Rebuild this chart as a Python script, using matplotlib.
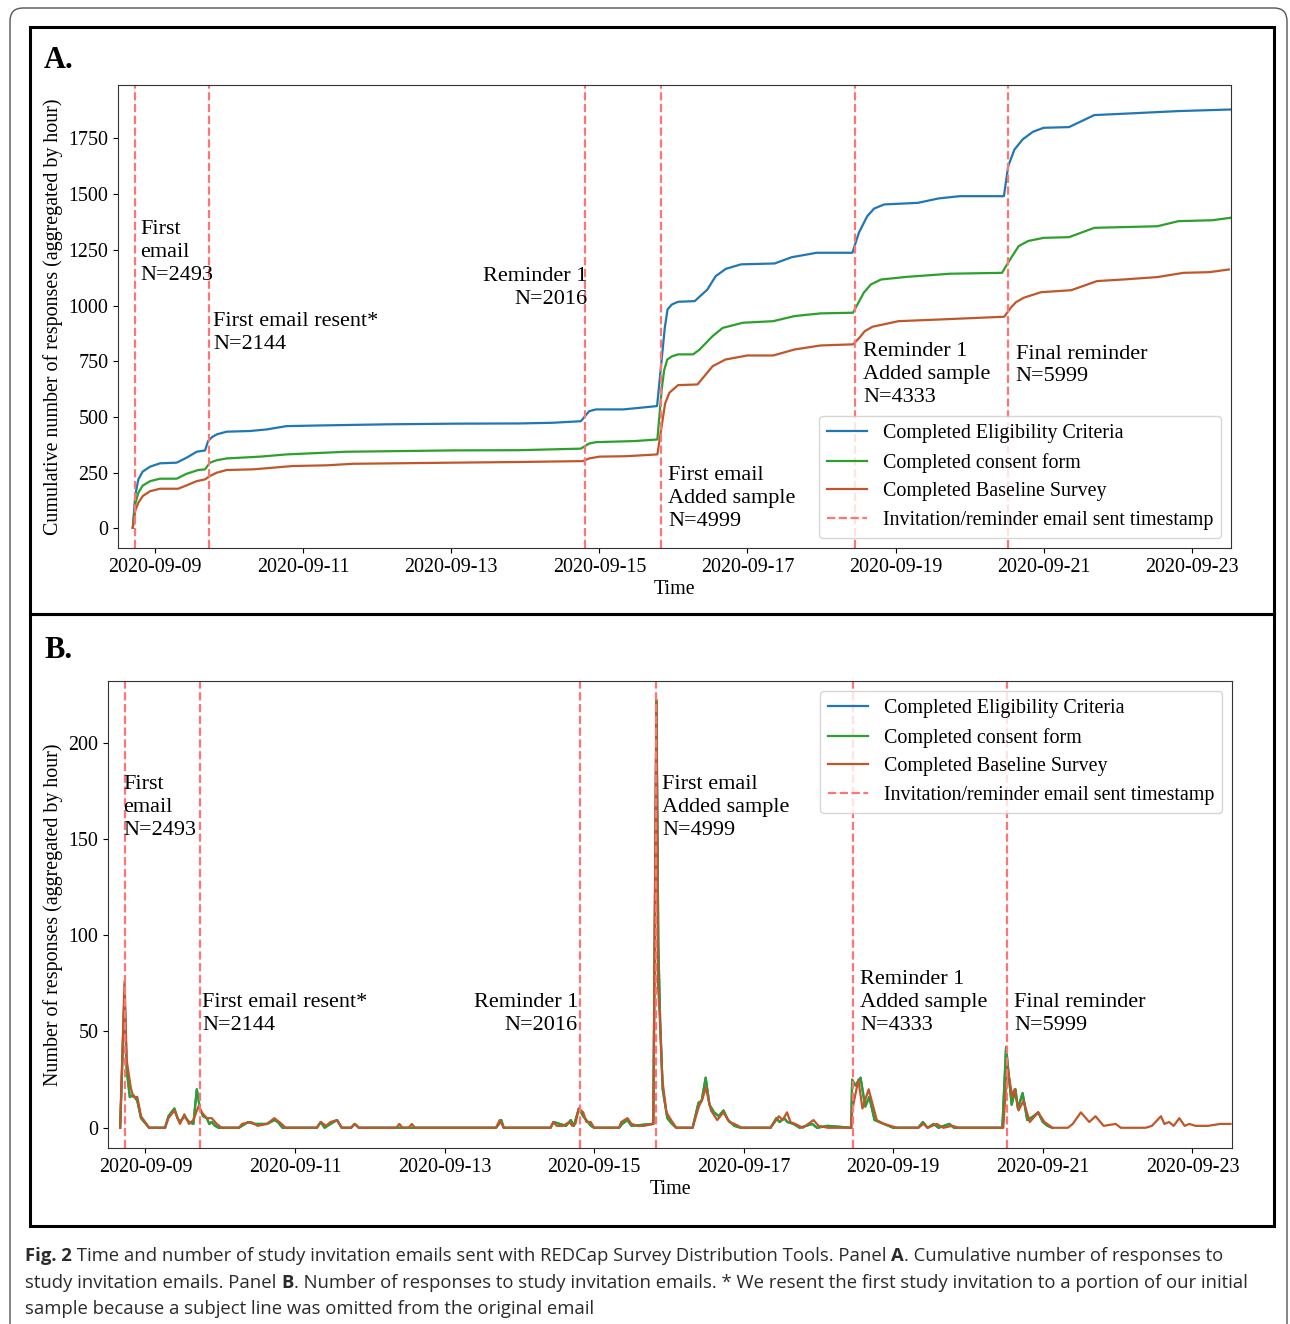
import matplotlib
matplotlib.use('Agg')
import matplotlib.pyplot as plt
import matplotlib.dates as mdates
from matplotlib.patches import Rectangle, FancyBboxPatch
import pandas as pd

W, H = 1290, 1324
T0 = pd.Timestamp('2020-09-08 00:00')

# ---- data: hours after 2020-09-08 00:00 ----
# panel A, cumulative counts
elig_h = [16.8, 17.6, 18.6, 20.0, 22.4, 25.6, 31.0, 34.2, 37.5, 40.2, 41.2, 42.5, 44.0, 47.2, 54.7, 60.1,
          66.6, 77.4, 99.0, 120.5, 142.1, 152.8, 162.0, 164.7, 166.9, 175.8, 186.7, 188.3, 189.2, 190.1,
          191.5, 193.5, 198.9, 203.0, 205.7, 209.0, 213.9, 224.8, 230.3, 238.4, 250.0, 252.1, 254.8,
          257.0, 260.3, 271.2, 278.0, 284.8, 299.1, 300.5, 302.5, 305.2, 308.5, 312.0, 320.2, 328.4,
          339.3, 355.7, 372.5]
elig_n = [3, 150, 220, 255, 277, 292, 295, 317, 344, 350, 392, 410, 422, 434, 437, 444,
          459, 462, 467, 470, 471, 474, 481, 526, 534, 534, 549, 773, 900, 983,
          1005, 1017, 1020, 1072, 1132, 1165, 1185, 1189, 1217, 1237, 1237, 1327, 1401,
          1435, 1454, 1461, 1481, 1491, 1491, 1626, 1700, 1746, 1780, 1798, 1801, 1855,
          1862, 1873, 1880]

cons_h = [16.8, 17.6, 18.6, 20.0, 22.4, 25.6, 31.0, 34.2, 38.0, 40.2, 41.8, 44.0, 47.2, 58.0, 66.6, 86.0,
          120.5, 142.1, 162.0, 164.7, 166.9, 179.5, 186.8, 188.2, 189.0, 190.0, 191.5, 193.5, 198.4,
          200.5, 204.7, 208.0, 214.5, 224.3, 231.3, 239.7, 250.2, 253.7, 256.0, 259.3, 267.7, 281.7,
          298.5, 301.1, 303.9, 307.0, 312.0, 320.2, 328.4, 348.8, 355.7, 366.6, 372.5]
cons_n = [3, 110, 160, 192, 212, 223, 223, 245, 262, 265, 295, 306, 314, 322, 332, 344,
          350, 351, 358, 381, 387, 392, 399, 624, 710, 758, 772, 781, 781,
          803, 863, 900, 923, 930, 953, 965, 968, 1058, 1095, 1117, 1129, 1143,
          1147, 1207, 1267, 1290, 1304, 1307, 1349, 1356, 1379, 1383, 1394]

base_h = [16.8, 17.6, 18.6, 20.0, 22.4, 25.6, 31.5, 34.2, 37.5, 40.2, 41.8, 44.0, 47.2, 55.8, 68.7, 79.5,
          88.2, 120.5, 142.1, 162.6, 164.7, 168.0, 176.7, 186.8, 188.2, 189.3, 190.7, 193.5, 199.8,
          204.7, 208.9, 215.9, 224.3, 231.3, 239.7, 250.2, 252.3, 254.0, 256.5, 264.9, 279.0, 299.2,
          301.3, 303.0, 305.5, 311.1, 320.9, 329.3, 337.7, 348.9, 357.3, 365.7, 372.0]
base_n = [3, 80, 115, 145, 167, 178, 178, 193, 212, 220, 235, 250, 262, 265, 280, 283,
          290, 295, 298, 302, 314, 322, 324, 332, 459, 560, 609, 643, 646,
          728, 758, 776, 776, 803, 821, 826, 856, 885, 905, 930, 938, 950,
          990, 1015, 1035, 1060, 1069, 1110, 1117, 1128, 1147, 1150, 1162]

# panel B, hourly counts
hr_cons_h = [15.9, 17.3, 18.0, 19.0, 20.1, 21.4, 22.6, 25.2, 30.3, 31.4, 33.3, 34.3, 35.1, 36.5, 38.0,
             39.4, 40.5, 41.5, 42.5, 43.7, 44.5, 45.3, 46.4, 47.5, 54.0, 55.0, 57.0, 59.0, 61.0, 63.0,
             65.4, 66.5, 68.0, 79.0, 80.3, 81.5, 83.4, 85.5, 87.0, 90.0, 91.2, 92.5, 136.5, 137.5, 138.2,
             139.0, 154.0, 155.0, 157.0, 159.0, 160.5, 161.5, 163.1, 164.5, 166.0, 167.0, 168.0, 176.0,
             177.0, 178.7, 180.0, 186.5, 187.0, 188.0, 188.6, 189.2, 190.0, 191.5, 193.0, 194.4, 199.6,
             201.5, 202.5, 203.8, 205.0, 206.5, 208.0, 209.5, 211.0, 213.0, 215.0, 224.6, 226.5, 227.5,
             229.0, 230.0, 232.0, 234.0, 238.0, 239.5, 243.0, 250.5, 250.8, 251.8, 253.5, 255.0, 256.3,
             258.0, 261.0, 264.0, 272.0, 273.5, 275.0, 277.0, 278.5, 282.0, 283.5, 299.0, 300.2, 301.0,
             302.0, 303.2, 304.0, 305.5, 307.0, 309.0, 310.5, 312.0, 313.5, 315.0]
hr_cons_n = [0, 70, 30, 16, 17, 14, 5, 0, 0, 6, 10, 5, 3, 6, 3,
             2, 20, 10, 6, 5, 2, 3, 1, 0, 0, 1, 3, 2, 2, 2,
             4, 3, 0, 0, 3, 0, 2, 4, 0, 0, 2, 0, 0, 2, 4,
             0, 0, 3, 2, 1, 4, 1, 10, 6, 3, 1, 0, 0,
             2, 4, 1, 2, 2, 222, 95, 55, 20, 5, 2, 0, 0,
             13, 14, 26, 12, 8, 6, 9, 4, 1, 0, 0, 5, 3,
             5, 3, 2, 0, 2, 0, 1, 0, 25, 22, 26, 11, 16,
             4, 2, 0, 0, 3, 0, 2, 0, 2, 0, 0, 42, 28,
             12, 20, 10, 18, 4, 6, 8, 3, 1, 0]

hr_base_h = [15.9, 17.3, 18.0, 19.3, 20.1, 21.4, 22.6, 25.2, 30.3, 31.4, 33.3, 35.1, 36.5, 38.0, 39.4,
             41.0, 42.1, 43.7, 45.3, 46.9, 48.5, 54.0, 55.0, 57.9, 60.0, 63.0, 65.4, 67.7, 69.0, 79.0,
             80.3, 82.0, 83.4, 85.5, 87.0, 90.0, 91.2, 92.5, 104.5, 105.5, 106.5, 108.5, 109.5, 110.5,
             136.5, 137.7, 139.0, 154.0, 154.9, 156.0, 158.0, 160.0, 161.0, 162.0, 163.1, 164.5, 165.5,
             166.9, 168.0, 176.0, 176.7, 178.7, 180.0, 182.0, 184.0, 187.0, 188.0, 188.5, 189.0, 189.9,
             191.2, 193.1, 194.4, 199.6, 201.6, 202.8, 203.8, 205.5, 207.5, 209.5, 211.4, 213.0, 215.4,
             224.6, 226.0, 227.3, 228.5, 229.9, 231.0, 232.5, 235.0, 238.4, 240.0, 243.0, 250.5, 250.8,
             252.8, 254.1, 256.1, 258.7, 261.0, 265.2, 272.0, 273.7, 275.0, 278.0, 280.0, 283.0, 285.0,
             299.3, 300.6, 302.2, 302.9, 304.2, 305.8, 307.8, 310.5, 312.5, 315.1, 320.0, 321.6, 324.2,
             326.9, 328.9, 331.5, 335.4, 337.0, 345.0, 347.0, 349.9, 351.0, 352.5, 354.0, 355.8, 357.5,
             359.0, 361.0, 365.0, 368.9, 372.2]
hr_base_n = [0, 76, 35, 21, 16, 16, 6, 0, 0, 5, 9, 2, 7, 2, 4,
             11, 8, 5, 5, 2, 0, 0, 2, 3, 1, 2, 5, 2, 0, 0,
             3, 1, 3, 4, 0, 0, 2, 0, 0, 2, 0, 0, 2, 0,
             0, 4, 0, 0, 3, 1, 1, 3, 1, 2, 10, 8, 3,
             3, 0, 0, 3, 5, 2, 1, 1, 2, 222, 74, 60, 25,
             8, 3, 0, 0, 11, 15, 21, 9, 4, 8, 3, 2, 0,
             0, 3, 6, 4, 8, 3, 2, 0, 4, 1, 0, 0, 9,
             25, 10, 20, 4, 2, 0, 0, 2, 0, 2, 0, 1, 0,
             0, 32, 16, 20, 9, 14, 3, 8, 3, 0, 0, 2, 8,
             3, 6, 1, 2, 0, 0, 1, 6, 2, 3, 1, 5, 1,
             2, 1, 1, 2, 2]

# email send times (hours) and annotations
email_h = [17.5, 41.5, 163.5, 188.0, 251.0, 300.5]
email_txt = ['First\nemail\nN=2493', 'First email resent*\nN=2144', 'Reminder 1\nN=2016',
             'First email\nAdded sample\nN=4999', 'Reminder 1\nAdded sample\nN=4333',
             'Final reminder\nN=5999']
txt_a_h = [19.1, 42.8, 164.1, 190.3, 253.4, 302.9]
txt_a_y = [1385, 973, 1175, 280, 835, 825]
txt_b_h = [17.0, 42.3, 162.8, 189.8, 253.4, 302.9]
txt_b_y = [183, 70, 70, 183, 82, 70]
txt_ha = ['left', 'left', 'right', 'left', 'left', 'left']

labels = ['Completed Eligibility Criteria', 'Completed consent form', 'Completed Baseline Survey',
          'Invitation/reminder email sent timestamp']
day_ticks = pd.date_range('2020-09-09', '2020-09-23', freq='2D')

BLUE, GREEN, BROWN = '#1f77b4', '#2ca02c', '#c0562a'
RED = '#ff7474'


def hours(h):
    return T0 + pd.to_timedelta(h, unit='h')


plt.rcParams['font.family'] = ['Liberation Serif', 'DejaVu Serif']
plt.rcParams['font.size'] = 14.4

fig = plt.figure(figsize=(W / 100, H / 100), dpi=100)


def fx(x):
    return x / W


def fy(y):
    return 1 - y / H


# outer rounded box and panel frames
fig.patches.append(FancyBboxPatch((fx(10), fy(1340)), fx(1277), 1332 / H,
                                  boxstyle='round,pad=0,rounding_size=0.01', transform=fig.transFigure,
                                  fill=False, ec='#555555', lw=1.0))
for y0, y1 in [(27, 614), (614, 1226)]:
    fig.patches.append(Rectangle((fx(30), fy(y1)), fx(1244), (y1 - y0) / H, transform=fig.transFigure,
                                 fill=False, ec='black', lw=2.2))

axA = fig.add_axes([fx(118), fy(548), fx(1113), 463 / H])
axB = fig.add_axes([fx(108), fy(1148), fx(1124), 467 / H])

axA.plot(hours(elig_h), elig_n, color=BLUE, lw=1.6, label=labels[0])
axA.plot(hours(cons_h), cons_n, color=GREEN, lw=1.6, label=labels[1])
axA.plot(hours(base_h), base_n, color=BROWN, lw=1.6, label=labels[2])

# blue hourly series is not visible in the original, it sits under the green one
axB.plot(hours(hr_cons_h), hr_cons_n, color=BLUE, lw=1.6, label=labels[0])
axB.plot(hours(hr_cons_h), hr_cons_n, color=GREEN, lw=1.6, label=labels[1])
axB.plot(hours(hr_base_h), hr_base_n, color=BROWN, lw=1.6, label=labels[2])

for ax, th, ty in [(axA, txt_a_h, txt_a_y), (axB, txt_b_h, txt_b_y)]:
    for i, h in enumerate(email_h):
        ax.axvline(hours(h), color=RED, ls='--', lw=1.6, label=labels[3] if i == 0 else None)
        ax.text(hours(th[i]), ty[i], email_txt[i], ha=txt_ha[i], va='top', fontsize=16,
                linespacing=1.28, multialignment=txt_ha[i])
    ax.set_xlim(hours(12), hours(372.7))
    ax.set_xticks(day_ticks)
    ax.xaxis.set_major_formatter(mdates.DateFormatter('%Y-%m-%d'))
    ax.set_xlabel('Time', fontsize=14.4, labelpad=2)
    for s in ax.spines.values():
        s.set_color('#333333')

axA.set_ylim(-88, 1990)
axA.set_yticks(range(0, 1751, 250))
axA.set_ylabel('Cumulative number of responses (aggregated by hour)', fontsize=14.4)
axA.legend(loc='lower right', fontsize=14.4, labelspacing=0.48)

axB.set_ylim(-10.5, 232)
axB.set_yticks(range(0, 201, 50))
axB.set_ylabel('Number of responses (aggregated by hour)', fontsize=14.4)
axB.legend(loc='upper right', fontsize=14.4, labelspacing=0.48)

fig.text(fx(44), fy(61), 'A.', fontsize=22, fontweight='bold', va='center')
fig.text(fx(44), fy(650), 'B.', fontsize=22, fontweight='bold', va='center')

# caption with bold pieces, laid out piece by piece
cap_font = ['Open Sans', 'DejaVu Sans']
cap_lines = [
    [('Fig. 2', 'bold'), (' Time and number of study invitation emails sent with REDCap Survey Distribution '
                          'Tools. Panel ', 'normal'), ('A', 'bold'), ('. Cumulative number of responses to', 'normal')],
    [('study invitation emails. Panel ', 'normal'), ('B', 'bold'),
     ('. Number of responses to study invitation emails. * We resent the first study invitation to a portion '
      'of our initial', 'normal')],
    [('sample because a subject line was omitted from the original email', 'normal')],
]
renderer = fig.canvas.get_renderer()
for k, pieces in enumerate(cap_lines):
    x = 25
    for s, wt in pieces:
        t = fig.text(fx(x), fy(1261 + k * 26.5), s, fontsize=13.3, fontweight=wt, family=cap_font,
                     color='#2b2b2b', va='baseline')
        x = t.get_window_extent(renderer).x1

fig.savefig('out.png', dpi=100)
